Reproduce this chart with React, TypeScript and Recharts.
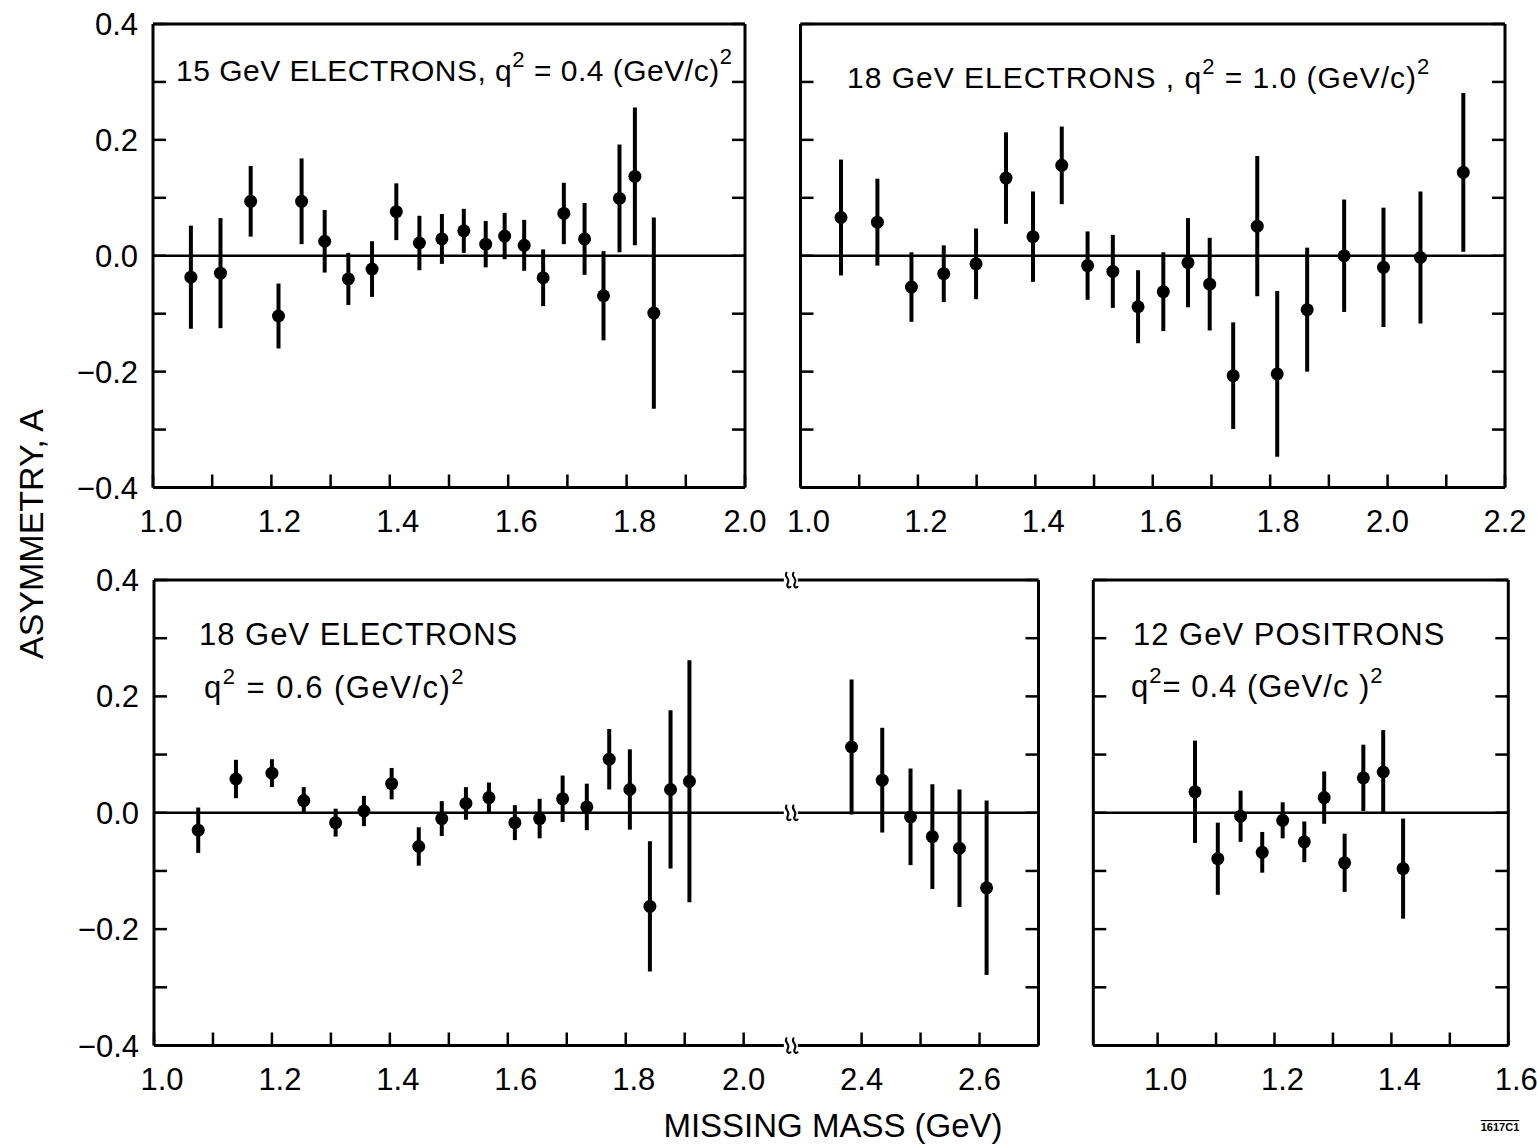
import React from 'react';
import {
  ScatterChart,
  Scatter,
  XAxis,
  YAxis,
  ErrorBar,
  ReferenceLine,
  ReferenceDot,
} from 'recharts';

const W = 1537;
const H = 1146;
const FONT = '"Liberation Sans", Arial, sans-serif';

// 15 GeV electrons, q^2 = 0.4
const mass15 = [1.064, 1.114, 1.165, 1.212, 1.251, 1.29, 1.33, 1.37, 1.411, 1.45, 1.488, 1.525, 1.562, 1.594, 1.627, 1.659, 1.694, 1.729, 1.761, 1.788, 1.814, 1.846];
const asym15 = [-0.037, -0.03, 0.094, -0.104, 0.094, 0.025, -0.04, -0.023, 0.076, 0.022, 0.029, 0.043, 0.02, 0.034, 0.018, -0.038, 0.073, 0.029, -0.069, 0.099, 0.137, -0.099];
const err15 = [0.089, 0.095, 0.061, 0.056, 0.074, 0.054, 0.045, 0.048, 0.049, 0.047, 0.043, 0.038, 0.04, 0.04, 0.044, 0.049, 0.053, 0.062, 0.077, 0.093, 0.119, 0.165];

// 18 GeV electrons, q^2 = 1.0
const mass18a = [1.069, 1.131, 1.189, 1.244, 1.299, 1.35, 1.396, 1.445, 1.489, 1.532, 1.575, 1.618, 1.66, 1.697, 1.737, 1.778, 1.812, 1.863, 1.926, 1.993, 2.056, 2.129];
const asym18a = [0.066, 0.058, -0.054, -0.031, -0.014, 0.134, 0.033, 0.156, -0.017, -0.027, -0.088, -0.062, -0.012, -0.049, -0.207, 0.051, -0.204, -0.093, 0.0, -0.02, -0.003, 0.144];
const err18a = [0.1, 0.075, 0.06, 0.049, 0.061, 0.079, 0.078, 0.067, 0.059, 0.063, 0.063, 0.068, 0.077, 0.08, 0.092, 0.121, 0.143, 0.107, 0.097, 0.103, 0.114, 0.137];

// 18 GeV electrons, q^2 = 0.6 (axis broken between 2.1 and 2.3)
const mass18b = [1.075, 1.139, 1.2, 1.254, 1.308, 1.356, 1.403, 1.449, 1.488, 1.529, 1.568, 1.612, 1.654, 1.693, 1.734, 1.772, 1.807, 1.841, 1.876, 1.908, 2.383, 2.435, 2.483, 2.52, 2.566, 2.612];
const asym18b = [-0.03, 0.058, 0.068, 0.021, -0.017, 0.003, 0.05, -0.058, -0.01, 0.016, 0.026, -0.017, -0.01, 0.024, 0.01, 0.092, 0.04, -0.161, 0.04, 0.054, 0.113, 0.056, -0.007, -0.041, -0.061, -0.129];
const err18b = [0.039, 0.033, 0.024, 0.023, 0.024, 0.026, 0.027, 0.033, 0.03, 0.028, 0.026, 0.03, 0.034, 0.04, 0.04, 0.052, 0.069, 0.112, 0.136, 0.208, 0.116, 0.09, 0.083, 0.09, 0.101, 0.15];

// 12 GeV positrons, q^2 = 0.4
const mass12 = [1.064, 1.103, 1.142, 1.179, 1.214, 1.251, 1.285, 1.32, 1.352, 1.386, 1.42];
const asym12 = [0.036, -0.079, -0.006, -0.068, -0.013, -0.05, 0.026, -0.086, 0.06, 0.07, -0.096];
const err12 = [0.088, 0.062, 0.044, 0.035, 0.031, 0.035, 0.045, 0.05, 0.057, 0.072, 0.086];

// tick positions
const yTicks = [-0.4, -0.3, -0.2, -0.1, 0, 0.1, 0.2, 0.3, 0.4];
const xTicks15 = [1.0, 1.1, 1.2, 1.3, 1.4, 1.5, 1.6, 1.7, 1.8, 1.9, 2.0];
const xTicks18a = [1.0, 1.1, 1.2, 1.3, 1.4, 1.5, 1.6, 1.7, 1.8, 1.9, 2.0, 2.1, 2.2];
const xTicks18b = [1.0, 1.1, 1.2, 1.3, 1.4, 1.5, 1.6, 1.7, 1.8, 1.9, 2.0, 2.4, 2.5, 2.6];
const xTicks12 = [1.0, 1.1, 1.2, 1.3, 1.4, 1.5, 1.6];

// axis break for the q^2 = 0.6 panel: values above 2.2 are drawn 0.2 to the left
const BREAK_AT = 2.2;
const BREAK_SHIFT = 0.2;
const BREAK_POS = 2.08;
const toPlot = (m: number) => (m > BREAK_AT ? m - BREAK_SHIFT : m);
const fromPlot = (v: number) => (v > BREAK_POS ? v + BREAK_SHIFT : v);
const breakMarks = [0.4, 0, -0.4];

const zip = (xs: number[], ys: number[], es: number[], f = (v: number) => v) =>
  xs.map((x, i) => ({ x: f(x), y: ys[i], err: es[i] }));

const data15 = zip(mass15, asym15, err15);
const data18a = zip(mass18a, asym18a, err18a);
const data18b = zip(mass18b, asym18b, err18b, toPlot);
const data12 = zip(mass12, asym12, err12);

const evenLabel = (v: number) => (Math.round(v * 10) % 2 === 0 ? v.toFixed(1) : '');
const evenLabelBroken = (v: number) => evenLabel(fromPlot(v));
const yLabel = (v: number) => {
  if (Math.round(v * 10) % 2 !== 0) return '';
  return (v < 0 ? '\u2212' : '') + Math.abs(v).toFixed(1);
};

const Dot = (p: any) => <circle cx={p.cx} cy={p.cy} r={6.5} fill="#000" />;
const NoLabel = () => <g />;

// the hand-lettered "1" is a thin stroke, so labels starting with it sit a bit right of the tick
const makeXLabel = (fmt: (v: number) => string) => (p: any) => {
  const s = fmt(p.payload.value);
  if (!s) return <g />;
  return (
    <text
      x={p.x + (s[0] === '1' ? 8 : 0)}
      y={p.y}
      dy="0.71em"
      textAnchor="middle"
      fontSize={31}
      fontFamily={FONT}
      fill="#000"
    >
      {s}
    </text>
  );
};

const BreakMark = (p: any) => (
  <g transform={`translate(${p.cx},${p.cy})`}>
    <rect x={-7} y={-9} width={14} height={18} fill="#fff" />
    <path
      d="M-4,-8 C-8,-3 0,-2 -3,3 C-5,7 -1,9 0,6 M3,-8 C-1,-3 7,-2 4,3 C2,7 6,9 7,6"
      stroke="#000"
      strokeWidth={2}
      fill="none"
    />
  </g>
);

type Box = { left: number; top: number; right: number; bottom: number };

interface PanelProps {
  box: Box;
  domain: [number, number];
  ticks: number[];
  fmt: (v: number) => string;
  data: { x: number; y: number; err: number }[];
  yLabels?: boolean;
  children?: React.ReactNode;
}

// each panel is a full-page chart whose margins put the plot box in place;
// axes get 1px of room because recharts skips axes with zero size
function Panel({ box, domain, ticks, fmt, data, yLabels, children }: PanelProps) {
  const margin = {
    left: box.left - 1,
    top: box.top - 1,
    right: W - box.right - 1,
    bottom: H - box.bottom - 1,
  };
  const axisLine = { stroke: '#000', strokeWidth: 3 };
  const tickLine = { stroke: '#000', strokeWidth: 2.5 };
  return (
    <div style={{ position: 'absolute', left: 0, top: 0 }}>
      <ScatterChart width={W} height={H} margin={margin}>
        <XAxis
          xAxisId="b"
          type="number"
          dataKey="x"
          domain={domain}
          ticks={ticks}
          interval={0}
          allowDataOverflow
          height={1}
          tickSize={-13}
          tickMargin={35}
          tick={makeXLabel(fmt)}
          axisLine={axisLine}
          tickLine={tickLine}
        />
        <XAxis
          xAxisId="t"
          orientation="top"
          type="number"
          domain={domain}
          ticks={ticks}
          interval={0}
          allowDataOverflow
          height={1}
          tickSize={-13}
          tick={NoLabel}
          axisLine={axisLine}
          tickLine={tickLine}
        />
        <YAxis
          yAxisId="l"
          type="number"
          dataKey="y"
          domain={[-0.4, 0.4]}
          ticks={yTicks}
          interval={0}
          allowDataOverflow
          width={1}
          tickSize={-13}
          tickMargin={28}
          tickFormatter={yLabel}
          tick={yLabels ? { fill: '#000', fontSize: 31, fontFamily: FONT } : NoLabel}
          axisLine={axisLine}
          tickLine={tickLine}
        />
        <YAxis
          yAxisId="r"
          orientation="right"
          type="number"
          domain={[-0.4, 0.4]}
          ticks={yTicks}
          interval={0}
          allowDataOverflow
          width={1}
          tickSize={-13}
          tick={NoLabel}
          axisLine={axisLine}
          tickLine={tickLine}
        />
        <ReferenceLine xAxisId="b" yAxisId="l" y={0} stroke="#000" strokeWidth={2.5} />
        <Scatter xAxisId="b" yAxisId="l" data={data} dataKey="y" shape={Dot} isAnimationActive={false}>
          <ErrorBar dataKey="err" direction="y" width={0} stroke="#000" strokeWidth={4} isAnimationActive={false} />
        </Scatter>
        {children}
      </ScatterChart>
    </div>
  );
}

export default function App() {
  const sup = { fontSize: 22 };
  return (
    <div style={{ position: 'absolute', left: 0, top: 0, width: W, height: H, background: '#fff' }}>
      <Panel
        box={{ left: 153, top: 24, right: 745, bottom: 487.5 }}
        domain={[1.0, 2.0]}
        ticks={xTicks15}
        fmt={evenLabel}
        data={data15}
        yLabels
      />
      <Panel
        box={{ left: 800.5, top: 24, right: 1505, bottom: 487.5 }}
        domain={[1.0, 2.2]}
        ticks={xTicks18a}
        fmt={evenLabel}
        data={data18a}
      />
      <Panel
        box={{ left: 154, top: 580, right: 1038.5, bottom: 1045.5 }}
        domain={[1.0, 2.5]}
        ticks={xTicks18b.map(toPlot)}
        fmt={evenLabelBroken}
        data={data18b}
        yLabels
      >
        {breakMarks.map((v) => (
          <ReferenceDot
            key={v}
            xAxisId="b"
            yAxisId="l"
            x={BREAK_POS}
            y={v}
            r={0}
            shape={BreakMark}
            ifOverflow="visible"
          />
        ))}
      </Panel>
      <Panel
        box={{ left: 1093.3, top: 580, right: 1508.3, bottom: 1045.5 }}
        domain={[0.89, 1.6]}
        ticks={xTicks12}
        fmt={evenLabel}
        data={data12}
      />

      <svg
        width={W}
        height={H}
        style={{ position: 'absolute', left: 0, top: 0, whiteSpace: 'pre', pointerEvents: 'none' }}
        fontFamily={FONT}
        fill="#000"
      >
        <text x={176} y={81} style={{ fontSize: 30, letterSpacing: 0.5 }}>
          15 GeV ELECTRONS, q<tspan dy={-14} style={sup}>2</tspan>
          <tspan dy={14}> = 0.4 (GeV/c)</tspan>
          <tspan dy={-17} style={sup}>2</tspan>
        </text>
        <text x={847} y={88} style={{ fontSize: 30, letterSpacing: 1 }}>
          18 GeV  ELECTRONS , q<tspan dy={-14} style={sup}>2</tspan>
          <tspan dy={14}> = 1.0 (GeV/c)</tspan>
          <tspan dy={-14} style={sup}>2</tspan>
        </text>
        <text x={199} y={645} style={{ fontSize: 31, letterSpacing: 1 }}>
          18 GeV ELECTRONS
        </text>
        <text x={204} y={698} style={{ fontSize: 31, letterSpacing: 1.5 }}>
          q<tspan dy={-14} style={sup}>2</tspan>
          <tspan dy={14}> = 0.6 (GeV/c)</tspan>
          <tspan dy={-14} style={sup}>2</tspan>
        </text>
        <text x={1133} y={645} style={{ fontSize: 31, letterSpacing: 1 }}>
          12 GeV    POSITRONS
        </text>
        <text x={1131} y={697} style={{ fontSize: 31, letterSpacing: 1 }}>
          q<tspan dy={-14} style={sup}>2</tspan>
          <tspan dy={14}>= 0.4 (GeV/c )</tspan>
          <tspan dy={-14} style={sup}>2</tspan>
        </text>
        <text transform="translate(43,534) rotate(-90)" textAnchor="middle" fontSize={34}>
          ASYMMETRY, A
        </text>
        <text x={833} y={1137} textAnchor="middle" fontSize={33}>
          MISSING MASS (GeV)
        </text>
        <text x={1500} y={1131} textAnchor="middle" fontSize={11} fontWeight="bold" textDecoration="overline">
          1617C1
        </text>
      </svg>
    </div>
  );
}
